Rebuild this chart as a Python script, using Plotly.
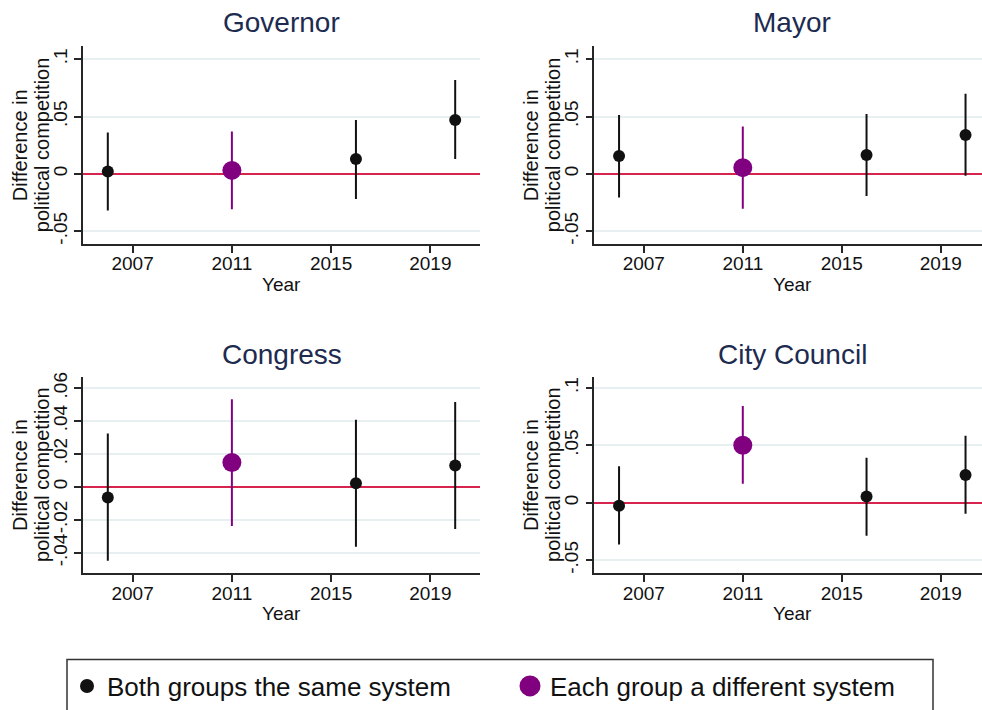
import plotly.graph_objects as go

# Election years on the x axis and whether both groups share the same system
years = [2006, 2011, 2016, 2020]
different_system = [False, True, False, False]
year_ticks = [2007, 2011, 2015, 2019]

panel_titles = ["Governor", "Mayor", "Congress", "City Council"]

# Point estimates and 95% confidence bounds per office
governor_coef = [0.002, 0.003, 0.013, 0.047]
governor_lo = [-0.032, -0.031, -0.022, 0.013]
governor_hi = [0.036, 0.037, 0.047, 0.082]

mayor_coef = [0.0155, 0.0054, 0.0164, 0.0339]
mayor_lo = [-0.0207, -0.0305, -0.0193, -0.0017]
mayor_hi = [0.0514, 0.0414, 0.0522, 0.0698]

congress_coef = [-0.0064, 0.0148, 0.0022, 0.013]
congress_lo = [-0.0448, -0.0238, -0.0364, -0.0256]
congress_hi = [0.0324, 0.0532, 0.0408, 0.0516]

council_coef = [-0.0026, 0.0501, 0.0054, 0.0243]
council_lo = [-0.0364, 0.0166, -0.0287, -0.0095]
council_hi = [0.0318, 0.0844, 0.0392, 0.0584]

ytick_vals_wide = [-0.05, 0, 0.05, 0.1]
ytick_text_wide = ["-.05", "0", ".05", ".1"]
ytick_vals_congress = [-0.04, -0.02, 0, 0.02, 0.04, 0.06]
ytick_text_congress = ["-.04", "-.02", "0", ".02", ".04", ".06"]

ytitle_lines = ["Difference in", "political competition"]
xtitle = "Year"
legend_labels = ["Both groups the same system", "Each group a different system"]

# ---- styling / layout ----
W, H = 982, 710
FONT = "Arial, Liberation Sans, sans-serif"
TITLE_COLOR = "#1d2b50"
BLACK = "#111111"
PURPLE = "#800080"
REF_RED = "#d6244f"
GRID = "#e7eff1"
AXIS = "#262626"


def px_x(p):
    return p / W


def px_y(p):
    return 1 - p / H


left_dom = [px_x(83), px_x(480)]
right_dom = [px_x(594.3), 1.0]
top_dom = [px_y(243), px_y(43)]
bot_dom = [px_y(576.5), px_y(377.3)]

panels = [
    dict(coef=governor_coef, lo=governor_lo, hi=governor_hi, xdom=left_dom, ydom=top_dom,
         xr=[2005, 2021], yr=[-0.0612, 0.1112], tv=ytick_vals_wide, tt=ytick_text_wide),
    dict(coef=mayor_coef, lo=mayor_lo, hi=mayor_hi, xdom=right_dom, ydom=top_dom,
         xr=[2005, 2020.665], yr=[-0.0612, 0.1112], tv=ytick_vals_wide, tt=ytick_text_wide),
    dict(coef=congress_coef, lo=congress_lo, hi=congress_hi, xdom=left_dom, ydom=bot_dom,
         xr=[2005, 2021], yr=[-0.0524, 0.067], tv=ytick_vals_congress, tt=ytick_text_congress),
    dict(coef=council_coef, lo=council_lo, hi=council_hi, xdom=right_dom, ydom=bot_dom,
         xr=[2005, 2020.665], yr=[-0.0613, 0.110], tv=ytick_vals_wide, tt=ytick_text_wide),
]

fig = go.Figure()
layout = dict(
    width=W, height=H,
    margin=dict(l=0, r=0, t=0, b=0),
    paper_bgcolor="white", plot_bgcolor="white",
    font=dict(family=FONT, size=19, color="#111111"),
    showlegend=True,
)
annotations = []
shapes = []


def paper_text(text, x, y, size, color="#111", angle=0):
    return dict(text=text, x=px_x(x), y=px_y(y), xref="paper", yref="paper",
                showarrow=False, xanchor="center", yanchor="middle", textangle=angle,
                font=dict(size=size, family=FONT, color=color))


for i, p in enumerate(panels):
    n = "" if i == 0 else str(i + 1)
    xa, ya = "x" + n, "y" + n
    for flag, color, size in [(False, BLACK, 12), (True, PURPLE, 19)]:
        idx = [k for k, d in enumerate(different_system) if d == flag]
        xs = [years[k] for k in idx]
        ys = [p["coef"][k] for k in idx]
        up = [p["hi"][k] - p["coef"][k] for k in idx]
        dn = [p["coef"][k] - p["lo"][k] for k in idx]
        fig.add_trace(go.Scatter(
            x=xs, y=ys, mode="markers", xaxis=xa, yaxis=ya, showlegend=False,
            marker=dict(color=color, size=size),
            error_y=dict(type="data", symmetric=False, array=up, arrayminus=dn,
                         color=color, thickness=2, width=0),
        ))
    layout["xaxis" + n] = dict(
        domain=p["xdom"], range=p["xr"], anchor=ya,
        tickvals=year_ticks, ticks="outside", ticklen=7, tickwidth=1.5, tickcolor=AXIS,
        ticklabelstandoff=-5,
        showline=True, linecolor=AXIS, linewidth=1.5, showgrid=False, zeroline=False,
        tickfont=dict(size=19, family=FONT, color="#111"),
    )
    # zero reference line drawn as the y axis zeroline (above grid, below markers)
    layout["yaxis" + n] = dict(
        domain=p["ydom"], range=p["yr"], anchor=xa,
        tickvals=p["tv"], ticktext=p["tt"], tickangle=-90,
        ticks="outside", ticklen=7, tickwidth=1.5, tickcolor=AXIS,
        showline=True, linecolor=AXIS, linewidth=1.5,
        showgrid=True, gridcolor=GRID, gridwidth=1.5,
        zeroline=True, zerolinecolor=REF_RED, zerolinewidth=2,
        tickfont=dict(size=19, family=FONT, color="#111"),
    )

    left = i % 2 == 0
    top = i < 2
    cx = 281.5 if left else 792
    annotations.append(paper_text(panel_titles[i], cx, 19 if top else 355, 28, TITLE_COLOR))
    annotations.append(paper_text(xtitle, cx, 284 if top else 617, 19))
    ycen = 143 if top else 477
    x0 = 0 if left else 511
    annotations.append(paper_text(ytitle_lines[0], x0 + 20, ycen, 20, angle=-90))
    annotations.append(paper_text(ytitle_lines[1], x0 + 42, ycen, 20, angle=-90))

# legend keys
fig.add_trace(go.Scatter(x=[None], y=[None], mode="markers", name=legend_labels[0],
                         marker=dict(color=BLACK, size=14)))
fig.add_trace(go.Scatter(x=[None], y=[None], mode="markers", name=legend_labels[1],
                         marker=dict(color=PURPLE, size=16, line=dict(color=PURPLE, width=5))))

# legend frame
shapes.append(dict(type="rect", xref="paper", yref="paper",
                   x0=px_x(67), x1=px_x(933), y0=px_y(716), y1=px_y(664),
                   line=dict(color="#333", width=1.5), fillcolor="rgba(0,0,0,0)"))

layout["annotations"] = annotations
layout["shapes"] = shapes
layout["legend"] = dict(
    orientation="h", x=px_x(67), y=px_y(667), xanchor="left", yanchor="top",
    borderwidth=0, bgcolor="rgba(0,0,0,0)",
    font=dict(size=26, family=FONT, color="#111"),
    entrywidth=398, entrywidthmode="pixels", itemsizing="trace",
)
fig.update_layout(**layout)

fig.write_html("out.html")
